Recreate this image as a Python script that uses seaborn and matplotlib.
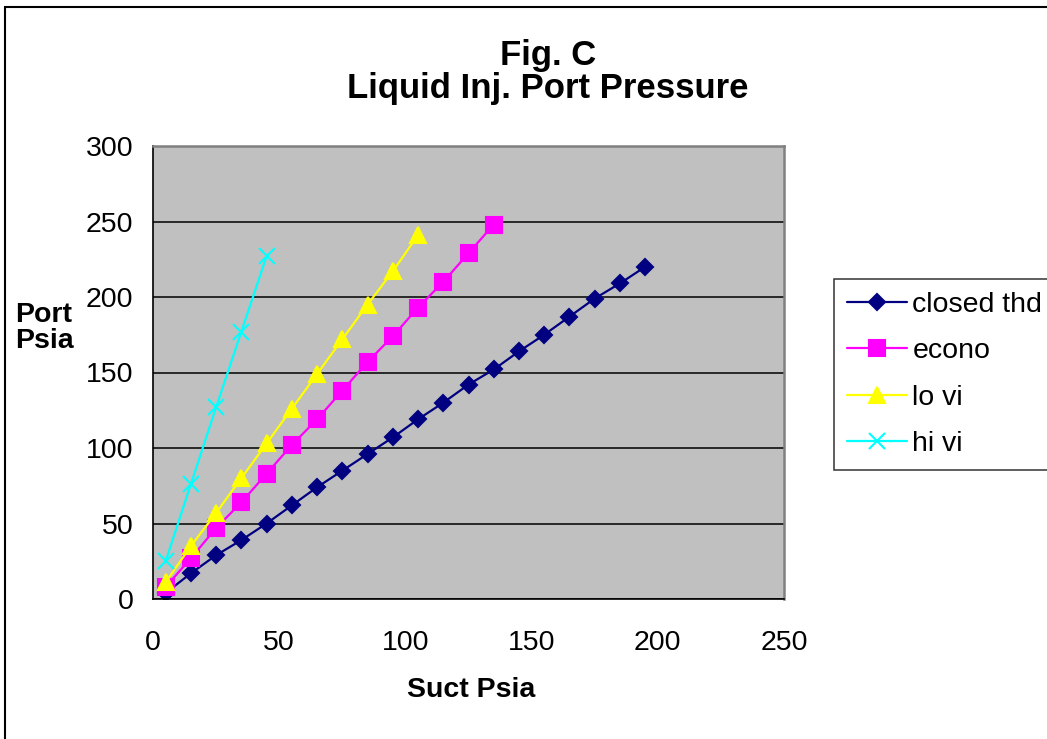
import matplotlib.pyplot as plt
import matplotlib.patches as mpatches
import numpy as np
import pandas as pd
import seaborn as sns

# values
closed_x = [5, 15, 25, 35, 45, 55, 65, 75, 85, 95, 105, 115, 125, 135, 145, 155, 165, 175, 185, 195]
closed_y = [4, 17, 29, 39, 50, 62, 74, 85, 96, 107, 119, 130, 142, 152, 164, 175, 187, 199, 209, 220]
econo_x = [5, 15, 25, 35, 45, 55, 65, 75, 85, 95, 105, 115, 125, 135]
econo_y = [8, 27, 47, 64, 83, 102, 119, 138, 157, 174, 193, 210, 229, 248]
lovi_x = [5, 15, 25, 35, 45, 55, 65, 75, 85, 95, 105]
lovi_y = [11, 35, 57, 80, 103, 126, 149, 172, 195, 217, 241]
hivi_x = [5, 15, 25, 35, 45]
hivi_y = [25, 76, 127, 177, 227]

x_ticks = [0, 50, 100, 150, 200, 250]
y_ticks = [0, 50, 100, 150, 200, 250, 300]

series = [
    ("closed thd", closed_x, closed_y, "#000080", "D", 8),
    ("econo", econo_x, econo_y, "#FF00FF", "s", 11),
    ("lo vi", lovi_x, lovi_y, "#FFFF00", "^", 12),
    ("hi vi", hivi_x, hivi_y, "#00FFFF", "x", 11),
]

sns.set_style("white")
plt.rcParams['font.family'] = ['Liberation Sans', 'DejaVu Sans']
plt.rcParams['text.color'] = 'black'
plt.rcParams['xtick.color'] = 'black'
plt.rcParams['ytick.color'] = 'black'
plt.rcParams['axes.labelcolor'] = 'black'

fig = plt.figure(figsize=(10.47, 7.39), dpi=100)
ax = fig.add_axes([153 / 1047, 1 - 599 / 739, (784 - 153) / 1047, (599 - 146) / 739])
ax.set_facecolor("#C0C0C0")

for name, xs, ys, col, mk, ms in series:
    df = pd.DataFrame({"x": xs, "y": ys})
    sns.lineplot(data=df, x="x", y="y", ax=ax, color=col, marker=mk, markersize=ms,
                 markeredgecolor=col, markeredgewidth=1.5, linewidth=1.6, label=name)

ax.set_xlim(0, 250)
ax.set_ylim(0, 300)
ax.set_xticks(x_ticks)
ax.set_yticks(y_ticks)
ax.yaxis.grid(True, color="black", linewidth=1.1)
ax.set_axisbelow(True)
ax.tick_params(axis="both", labelsize=20.5, direction="out", length=7, width=1.1, color="black",
               labelcolor="black")
ax.tick_params(axis="x", pad=15)
ax.tick_params(axis="y", pad=7)
ax.set_xlabel("")
ax.set_ylabel("")
for s in ["left", "bottom"]:
    ax.spines[s].set_color("black")
    ax.spines[s].set_linewidth(1.2)
for s in ["top", "right"]:
    ax.spines[s].set_color("#808080")
    ax.spines[s].set_linewidth(1.8)

fig.text(548 / 1047, 1 - 72 / 739, "Fig. C\nLiquid Inj. Port Pressure", ha="center", va="center",
         fontsize=25, fontweight="bold", linespacing=1.0, color="black")
fig.text(471 / 1047, 1 - 690 / 739, "Suct Psia", ha="center", va="center", fontsize=20.5,
         fontweight="bold", color="black")
fig.text(15 / 1047, 1 - 328 / 739, "Port\nPsia", ha="left", va="center", fontsize=20.5,
         fontweight="bold", linespacing=1.0, color="black")

handles, labels = ax.get_legend_handles_labels()
leg = ax.legend(handles, labels, loc="upper left", bbox_to_anchor=(834 / 1047, 1 - 279 / 739),
                bbox_transform=fig.transFigure, fontsize=20.5, frameon=True, fancybox=False,
                edgecolor="black", handlelength=2.1, handletextpad=0.2, labelspacing=0.72,
                borderpad=0.45, borderaxespad=0)
leg.get_frame().set_linewidth(1.1)
for t in leg.get_texts():
    t.set_color("black")

# chart border (right and bottom run off the picture)
fig.patches.append(mpatches.Rectangle((5 / 1047, -0.05), 1.1, 1 - 7 / 739 + 0.05, transform=fig.transFigure,
                                      fill=False, edgecolor="black", linewidth=1.5))

fig.savefig("out.png", dpi=100, facecolor="white")
